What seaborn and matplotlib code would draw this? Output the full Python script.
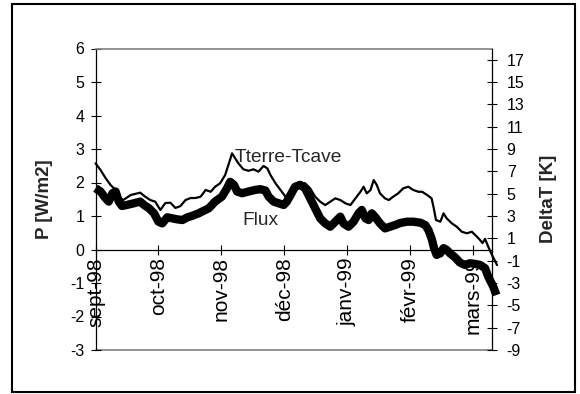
import matplotlib
matplotlib.use("Agg")
import matplotlib.pyplot as plt
from matplotlib.patches import Rectangle
import seaborn as sns
import pandas as pd

# Time positions are in months since 1 Sept 1998 (monthly ticks equally spaced)
month_labels = ["sept-98", "oct-98", "nov-98", "déc-98", "janv-99", "févr-99", "mars-99"]
month_ticks = [0, 1, 2, 3, 4, 5, 6]

# Heat flux P [W/m2] (left axis)
flux_t = [0.00, 0.08, 0.16, 0.21, 0.27, 0.32, 0.37, 0.42, 0.50, 0.61, 0.71, 0.77,
          0.85, 0.93, 1.00, 1.06, 1.14, 1.22, 1.30, 1.38, 1.46, 1.53, 1.64, 1.69,
          1.80, 1.90, 2.01, 2.09, 2.14, 2.20, 2.25, 2.33, 2.43, 2.54, 2.62, 2.70,
          2.75, 2.83, 2.91, 2.99, 3.04, 3.10, 3.17, 3.25, 3.33, 3.41, 3.49, 3.57,
          3.65, 3.73, 3.81, 3.89, 3.94, 4.02, 4.10, 4.18, 4.23, 4.29, 4.34, 4.39,
          4.44, 4.52, 4.60, 4.68, 4.76, 4.84, 4.95, 5.05, 5.16, 5.24, 5.29, 5.34,
          5.38, 5.42, 5.48, 5.53, 5.58, 5.63, 5.71, 5.79, 5.87, 5.95, 6.03, 6.11,
          6.19, 6.24, 6.32, 6.37]
flux = [1.83, 1.73, 1.53, 1.43, 1.68, 1.73, 1.43, 1.30, 1.33, 1.38, 1.43, 1.33,
        1.23, 1.08, 0.83, 0.78, 0.96, 0.93, 0.90, 0.88, 0.96, 1.00, 1.08, 1.13,
        1.23, 1.43, 1.58, 1.83, 2.02, 1.93, 1.73, 1.68, 1.73, 1.78, 1.80, 1.76,
        1.58, 1.43, 1.38, 1.33, 1.43, 1.63, 1.87, 1.93, 1.83, 1.53, 1.23, 0.93,
        0.78, 0.68, 0.83, 0.98, 0.78, 0.68, 0.83, 1.08, 1.18, 0.93, 0.88, 1.08,
        0.98, 0.78, 0.63, 0.68, 0.73, 0.79, 0.83, 0.83, 0.80, 0.73, 0.58, 0.33,
        0.04, -0.16, -0.11, 0.04, -0.01, -0.11, -0.23, -0.39, -0.46, -0.41, -0.43, -0.46,
        -0.56, -0.81, -1.11, -1.36]

# Temperature difference Tterre-Tcave [K] (right axis)
dt_t = [0.00, 0.08, 0.16, 0.24, 0.32, 0.40, 0.44, 0.56, 0.71, 0.79, 0.87, 0.95,
        1.03, 1.11, 1.19, 1.27, 1.35, 1.43, 1.51, 1.59, 1.67, 1.75, 1.83, 1.90,
        1.98, 2.06, 2.12, 2.17, 2.22, 2.27, 2.35, 2.43, 2.51, 2.59, 2.67, 2.73,
        2.78, 2.86, 2.94, 3.02, 3.07, 3.15, 3.23, 3.33, 3.41, 3.49, 3.57, 3.65,
        3.73, 3.81, 3.89, 3.97, 4.05, 4.13, 4.21, 4.26, 4.31, 4.37, 4.42, 4.47,
        4.52, 4.60, 4.66, 4.73, 4.81, 4.89, 4.97, 5.05, 5.13, 5.19, 5.27, 5.34,
        5.37, 5.41, 5.48, 5.53, 5.58, 5.66, 5.74, 5.82, 5.90, 5.98, 6.06, 6.11,
        6.15, 6.19, 6.24, 6.30, 6.38]
delta_t = [7.72, 7.12, 6.40, 5.77, 5.33, 4.61, 4.43, 4.88, 5.09, 4.73, 4.43, 4.28,
           3.54, 4.16, 4.19, 3.72, 3.89, 4.43, 4.61, 4.61, 4.73, 5.33, 5.17, 5.62,
           5.93, 6.67, 7.72, 8.61, 8.16, 7.72, 7.18, 7.05, 7.18, 6.97, 7.48, 7.27,
           6.67, 5.93, 5.33, 4.73, 4.88, 5.62, 5.98, 5.93, 5.48, 4.73, 4.28, 3.98,
           4.28, 4.58, 4.43, 4.14, 3.98, 4.58, 5.17, 5.62, 5.03, 5.33, 6.22, 5.77,
           5.03, 4.58, 4.43, 4.73, 5.03, 5.48, 5.62, 5.33, 5.17, 5.17, 4.88, 4.58,
           3.83, 2.64, 2.49, 3.24, 2.79, 2.35, 2.04, 1.59, 1.45, 1.59, 1.15, 0.85,
           0.58, 0.95, 0.25, -0.49, -1.39]

p_ticks = list(range(-3, 7))
k_ticks = list(range(-9, 18, 2))

sns.set_style("white")
plt.rcParams["font.family"] = ["Liberation Sans", "DejaVu Sans"]

fig = plt.figure(figsize=(5.8, 3.94), dpi=100)
ax = fig.add_axes([95.5 / 580, 1 - 350 / 394, 396.5 / 580, 301.5 / 394])
ax2 = ax.twinx()

df_flux = pd.DataFrame({"t": flux_t, "P": flux})
df_dt = pd.DataFrame({"t": dt_t, "dT": delta_t})

sns.lineplot(data=df_flux, x="t", y="P", ax=ax, color="black", linewidth=6,
             solid_joinstyle="round", solid_capstyle="butt")
sns.lineplot(data=df_dt, x="t", y="dT", ax=ax2, color="black", linewidth=1.6)
for ln in ax.lines + ax2.lines:
    ln.set_clip_on(False)

ax.set_xlim(0, 6.30)
ax.set_ylim(-3, 6)
ax2.set_ylim(-9, 18)

tick_kw = dict(direction="inout", length=7.2, width=0.8, color="black",
               labelcolor="black")
ax.tick_params(axis="y", left=True, pad=4.5, labelsize=11.5, **tick_kw)
ax.tick_params(axis="x", bottom=True, pad=2.0, labelsize=15, labelrotation=90, **tick_kw)
ax2.tick_params(axis="y", right=True, pad=7.0, labelsize=11.5, **tick_kw)

ax.set_yticks(p_ticks)
ax.set_yticklabels([str(v) for v in p_ticks])
ax2.set_yticks(k_ticks)
ax2.set_yticklabels([str(v) for v in k_ticks])
ax.set_xticks(month_ticks)
ax.set_xticklabels(month_labels)
for lbl in ax.get_xticklabels():
    lbl.set_rotation(90)
    lbl.set_verticalalignment("top")
    lbl.set_horizontalalignment("center")

# axis lines: value axes and the zero line in black, plot-area border in grey
ax.spines["left"].set_color("black")
ax.spines["left"].set_linewidth(0.9)
ax.spines["bottom"].set_position(("data", 0))
ax.spines["bottom"].set_color("black")
ax.spines["bottom"].set_linewidth(0.9)
ax.spines["top"].set_color("#808080")
ax.spines["top"].set_linewidth(1.2)
ax.spines["right"].set_visible(False)
for s in ("top", "bottom", "left"):
    ax2.spines[s].set_visible(False)
ax2.spines["right"].set_color("black")
ax2.spines["right"].set_linewidth(0.9)
ax.axhline(-3, color="#808080", linewidth=1.2, clip_on=False, zorder=0.5)

ax.set_xlabel("")
ax.set_ylabel("P [W/m2]", fontsize=13.5, fontweight="bold")
ax.yaxis.set_label_coords(-0.107, 0.5)
ax2.set_ylabel("DeltaT [K]", fontsize=13.5, fontweight="bold")
ax2.yaxis.set_label_coords(1.121, 0.5)

ax.text(2.21, 2.61, "Tterre-Tcave", fontsize=13.8, ha="left", va="baseline")
ax.text(2.33, 0.73, "Flux", fontsize=13.8, ha="left", va="baseline")

fig.patches.append(Rectangle((12 / 580, 2 / 394), 563 / 580, 388 / 394,
                             transform=fig.transFigure, fill=False,
                             edgecolor="black", linewidth=1.5))

fig.savefig("out.png", dpi=100)
